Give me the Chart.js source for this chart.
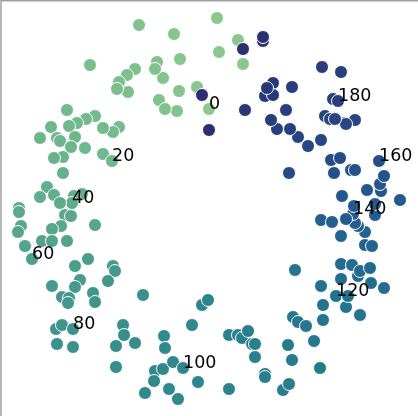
<!DOCTYPE html>
<html><head><meta charset="utf-8">
<script src="https://cdn.jsdelivr.net/npm/chart.js@4.4.1/dist/chart.umd.min.js"></script>
<style>html,body{margin:0;padding:0;background:#fff;}canvas{display:block;}</style>
</head><body>
<canvas id="c" width="418" height="416"></canvas>
<script>
const px = [209,217,238,219,243,197,174,180,179,157,163,177,155,139,159,165,135,127,119,128,117,90,
119,95,113,86,103,67,77,69,103,112,51,75,85,57,60,71,40,63,54,63,47,82,54,74,40,72,60,19,19,65,71,21,61,18,52,95,
42,52,25,67,32,88,75,52,80,75,113,62,115,69,68,108,93,95,56,62,73,57,73,143,123,124,116,116,135,
164,165,155,154,145,163,173,169,192,178,183,198,202,208,229,229,238,242,248,252,255,255,265,265,283,289,
288,292,320,293,298,306,314,323,295,323,346,360,321,336,348,341,371,384,358,341,352,360,370,
365,372,341,365,321,332,358,355,375,353,346,354,400,375,342,367,381,380,384,351,355,379,334,331,340,289,
345,355,346,321,308,325,298,330,335,333,338,341,290,277,322,292,286,271,273,265,273,267,245,263,263,243,209,202];
const py = [109,18,40,52,64,87,34,59,91,62,78,111,69,25,100,109,69,75,82,92,89,65,
127,116,132,119,128,110,123,126,154,161,127,137,148,138,141,147,138,157,158,173,187,194,195,196,197,203,203,208,212,215,216,226,226,232,229,225,
241,241,246,241,259,259,266,286,280,287,266,297,271,298,303,281,293,302,329,325,329,344,347,295,325,335,346,367,343,
336,348,371,381,393,369,362,389,325,399,368,382,305,300,389,335,335,338,331,344,344,357,374,377,390,384,
345,360,368,317,322,326,341,320,270,305,307,315,286,296,296,279,283,288,276,264,265,271,268,
245,246,236,232,220,222,226,223,215,214,219,206,200,204,196,190,191,184,176,170,170,161,173,160,158,173,
123,120,124,140,146,116,137,119,119,99,101,72,129,129,67,87,110,120,83,96,95,88,110,41,37,49,130,95];
const hue = [0,1,1,1,2,2,4,4,5,6,6,6,7,7,8,8,9,10,11,11,12,13,
15,16,16,17,17,18,18,19,19,20,21,21,21,22,23,23,24,26,27,31,35,36,37,37,38,40,41,43,44,45,45,48,49,50,50,50,
54,54,55,56,60,65,65,68,69,70,70,71,72,72,73,74,75,77,77,77,80,81,82,85,86,87,87,89,90,
95,96,96,96,96,97,98,98,99,99,100,101,101,102,104,105,106,106,108,108,108,108,108,108,109,110,
112,112,114,115,115,115,115,117,118,118,119,119,121,120,121,124,125,125,126,127,127,127,128,
133,133,134,136,137,137,138,139,139,140,141,142,143,143,149,150,150,152,154,158,159,160,161,164,165,167,
171,171,171,171,172,176,176,175,175,179,180,181,181,182,183,184,184,184,188,188,188,189,192,194,195,197,198,199];
// annotated indices
const labelValues = [0,20,40,60,80,100,120,140,160,180];

const stops = [[0,[141,200,143]],[20,[110,184,140]],[40,[95,171,140]],[60,[80,160,140]],[80,[60,146,140]],
[100,[45,135,140]],[120,[34,115,143]],[140,[36,92,143]],[160,[36,80,138]],[180,[40,64,126]],[199,[43,46,112]]];
function colorFor(v){
  for(let i=0;i<stops.length-1;i++){
    const [a,ca]=stops[i],[b,cb]=stops[i+1];
    if(v<=b){const f=(v-a)/(b-a);return 'rgb('+ca.map((c,k)=>Math.round(c+(cb[k]-c)*f)).join(',')+')';}
  }
  return 'rgb(43,46,112)';
}
const pts = px.map((x,i)=>({x:x,y:py[i],h:hue[i]}));

const framePlugin = {id:'frame', afterDraw(chart){
  const ctx=chart.ctx; ctx.save(); ctx.strokeStyle='#a0a0a0'; ctx.lineWidth=1.5;
  ctx.beginPath(); ctx.moveTo(1,416); ctx.lineTo(1,0.75); ctx.lineTo(418,0.75); ctx.stroke(); ctx.restore();
}};
const labelPlugin = {id:'lbl', afterDatasetsDraw(chart){
  const ctx=chart.ctx, xs=chart.scales.x, ys=chart.scales.y;
  ctx.save(); ctx.fillStyle='#000'; ctx.font='17.5px "DejaVu Sans"'; ctx.textAlign='left'; ctx.textBaseline='alphabetic';
  labelValues.forEach(v=>{
    const p = pts.find(q=>q.h===v); if(!p) return;
    ctx.fillText(String(v), xs.getPixelForValue(p.x), ys.getPixelForValue(p.y));
  });
  ctx.restore();
}};

new Chart(document.getElementById('c'), {
  type:'scatter',
  data:{datasets:[{data:pts, parsing:false, clip:false,
    pointRadius:6.5, pointHoverRadius:6.5, borderWidth:1, borderColor:'#ffffff',
    backgroundColor: pts.map(p=>colorFor(p.h))}]},
  options:{responsive:false, animation:false, events:[],
    layout:{padding:0, autoPadding:false},
    plugins:{legend:{display:false}, tooltip:{enabled:false}},
    scales:{x:{type:'linear',min:0,max:418,display:false},
            y:{type:'linear',min:0,max:416,reverse:true,display:false}}},
  plugins:[labelPlugin, framePlugin]
});
</script>
</body></html>
